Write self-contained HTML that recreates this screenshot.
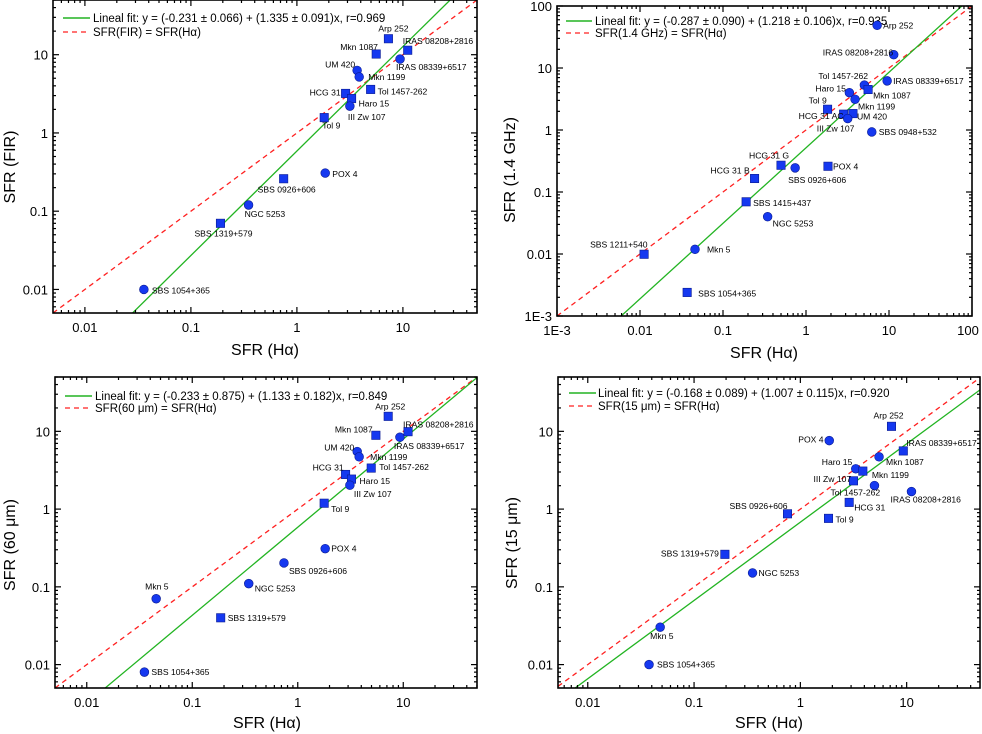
<!DOCTYPE html>
<html><head><meta charset="utf-8"><style>
html,body{margin:0;padding:0;background:#fff;}
svg{display:block;font-family:"Liberation Sans",Arial,sans-serif;}
</style></head><body>
<svg id="fig" width="982" height="734" viewBox="0 0 982 734" xmlns="http://www.w3.org/2000/svg"></svg>
<script>
// ---------- Panel 1: SFR(FIR) vs SFR(Halpha) ----------
const p1Names = ["Arp 252","IRAS 08208+2816","Mkn 1087","IRAS 08339+6517","UM 420","Mkn 1199","Tol 1457-262","HCG 31","Haro 15","III Zw 107","Tol 9","POX 4","SBS 0926+606","NGC 5253","SBS 1319+579","SBS 1054+365"];
const p1X = [7.3,11.1,5.6,9.4,3.7,3.87,4.96,2.88,3.28,3.16,1.81,1.85,0.75,0.35,0.19,0.036];
const p1Y = [16,11.4,10.2,8.8,6.3,5.2,3.6,3.2,2.75,2.2,1.57,0.307,0.26,0.12,0.07,0.01];
const p1Shape = ["s","s","s","c","c","c","s","s","s","c","s","c","s","c","s","c"];
const p1LabelDx = [-10,-5,-36,-4,-32,9,7,-36,7,-2,-2,7,-26,-4,-26,8];
const p1LabelDy = [-7,-6,-4,11,-3,3,5,2,8,14,11,4,14,12,13,4];
const p1Fit = [-0.231, 1.335];

// ---------- Panel 2: SFR(1.4 GHz) ----------
const p2Names = ["Arp 252","IRAS 08208+2816","IRAS 08339+6517","Tol 1457-262","Mkn 1087","Haro 15","Mkn 1199","Tol 9","HCG 31 AC","UM 420","III Zw 107","SBS 0948+532","HCG 31 G","SBS 0926+606","POX 4","HCG 31 B","SBS 1415+437","NGC 5253","SBS 1211+540","Mkn 5","SBS 1054+365"];
const p2X = [7.2,11.4,9.5,5.05,5.6,3.33,3.9,1.82,2.84,3.68,3.18,6.2,0.5,0.74,1.84,0.24,0.19,0.345,0.0112,0.046,0.037];
const p2Y = [48.8,16.4,6.2,5.3,4.5,4.0,3.13,2.16,1.8,1.84,1.53,0.93,0.27,0.245,0.26,0.165,0.0695,0.04,0.0099,0.0119,0.0024];
const p2Shape = ["c","c","c","c","s","c","c","s","s","s","c","c","s","c","s","s","s","c","s","c","s"];
const p2LabelDx = [6,-71,6,-46,5,-34,3,-19,-45,4,-31,7,-32,-7,5,-44,7,5,-54,12,11];
const p2LabelDy = [3,1,3,-6,9,-1,10,-6,5,6,13,3,-7,15,3,-5,4,10,-7,3,4];
const p2Fit = [-0.287, 1.218];

// ---------- Panel 3: SFR(60 um) ----------
const p3Names = ["Arp 252","IRAS 08208+2816","Mkn 1087","IRAS 08339+6517","UM 420","Mkn 1199","Tol 1457-262","HCG 31","Haro 15","III Zw 107","Tol 9","POX 4","SBS 0926+606","NGC 5253","Mkn 5","SBS 1319+579","SBS 1054+365"];
const p3X = [7.2,11.1,5.5,9.3,3.66,3.82,4.97,2.84,3.23,3.12,1.78,1.82,0.74,0.343,0.0455,0.186,0.0352];
const p3Y = [15.6,9.9,8.9,8.4,5.5,4.7,3.37,2.79,2.43,2.03,1.19,0.31,0.203,0.11,0.0703,0.04,0.008];
const p3Shape = ["s","s","s","c","c","c","s","s","s","c","s","c","c","c","c","s","c"];
const p3LabelDx = [-13,-5,-41,-6,-33,11,8,-33,8,4,7,6,5,6,-11,7,7];
const p3LabelDy = [-7,-4,-3,12,-1,3,2,-4,5,12,9,3,11,8,-9,3,3];
const p3Fit = [-0.233, 1.133];

// ---------- Panel 4: SFR(15 um) ----------
const p4Names = ["Arp 252","POX 4","IRAS 08339+6517","Mkn 1087","Haro 15","Mkn 1199","III Zw 107","Tol 1457-262","IRAS 08208+2816","HCG 31","Tol 9","SBS 0926+606","SBS 1319+579","NGC 5253","Mkn 5","SBS 1054+365"];
const p4X = [7.2,1.87,9.3,5.5,3.32,3.87,3.16,4.98,11.1,2.88,1.84,0.757,0.195,0.355,0.048,0.0377];
const p4Y = [11.6,7.6,5.6,4.7,3.3,3.08,2.31,2.01,1.68,1.22,0.76,0.87,0.262,0.151,0.0303,0.01];
const p4Shape = ["s","c","s","c","c","s","s","c","c","s","s","s","s","c","c","c"];
const p4LabelDx = [-18,-31,3,7,-34,9,-40,-44,-21,5,7,-58,-64,6,-10,8];
const p4LabelDy = [-8,2,-5,8,-4,7,1,10,11,8,4,-5,2,3,12,3];
const p4Fit = [-0.168, 1.007];

const NS = "http://www.w3.org/2000/svg";
const svg = document.getElementById("fig");
function mk(tag, attrs, parent) {
  const e = document.createElementNS(NS, tag);
  for (const k in attrs) e.setAttribute(k, attrs[k]);
  (parent || svg).appendChild(e);
  return e;
}

const panels = [
  {id:"fir", L:53, R:477, T:0, B:313, xmin:-2.301, xmax:1.699, ymin:-2.301, ymax:1.699,
   xt:[-2,-1,0,1], yt:[-2,-1,0,1], xtl:["0.01","0.1","1","10"], ytl:["0.01","0.1","1","10"],
   names:p1Names, X:p1X, Y:p1Y, shp:p1Shape, ldx:p1LabelDx, ldy:p1LabelDy, fit:p1Fit,
   ytitle:"SFR (FIR)", ytx:9, yty:167, xtx:265, xty:355, leg:[63,90,93,18,32], eq:"SFR(FIR) = SFR(Hα)",
   fitText:"Lineal fit: y = (-0.231 ± 0.066) + (1.335 ± 0.091)x, r=0.969"},
  {id:"radio", L:557, R:972, T:6, B:316, xmin:-3, xmax:2, ymin:-3, ymax:2,
   xt:[-3,-2,-1,0,1,2], yt:[-3,-2,-1,0,1,2], xtl:["1E-3","0.01","0.1","1","10","100"], ytl:["1E-3","0.01","0.1","1","10","100"],
   names:p2Names, X:p2X, Y:p2Y, shp:p2Shape, ldx:p2LabelDx, ldy:p2LabelDy, fit:p2Fit,
   ytitle:"SFR (1.4 GHz)", ytx:509, yty:170, xtx:764, xty:358, leg:[566,592,595,21,33], eq:"SFR(1.4 GHz) = SFR(Hα)",
   fitText:"Lineal fit: y = (-0.287 ± 0.090) + (1.218 ± 0.106)x, r=0.935"},
  {id:"60um", L:55, R:477, T:377, B:688, xmin:-2.301, xmax:1.699, ymin:-2.301, ymax:1.699,
   xt:[-2,-1,0,1], yt:[-2,-1,0,1], xtl:["0.01","0.1","1","10"], ytl:["0.01","0.1","1","10"],
   names:p3Names, X:p3X, Y:p3Y, shp:p3Shape, ldx:p3LabelDx, ldy:p3LabelDy, fit:p3Fit,
   ytitle:"SFR (60 μm)", ytx:9, yty:545, xtx:267, xty:728, leg:[65,92,95,396,408], eq:"SFR(60 μm) = SFR(Hα)",
   fitText:"Lineal fit: y = (-0.233 ± 0.875) + (1.133 ± 0.182)x, r=0.849"},
  {id:"15um", L:558, R:980, T:377, B:688, xmin:-2.28, xmax:1.69, ymin:-2.301, ymax:1.699,
   xt:[-2,-1,0,1], yt:[-2,-1,0,1], xtl:["0.01","0.1","1","10"], ytl:["0.01","0.1","1","10"],
   names:p4Names, X:p4X, Y:p4Y, shp:p4Shape, ldx:p4LabelDx, ldy:p4LabelDy, fit:p4Fit,
   ytitle:"SFR (15 μm)", ytx:511, yty:543, xtx:769, xty:728, leg:[569,596,598,393,406], eq:"SFR(15 μm) = SFR(Hα)",
   fitText:"Lineal fit: y = (-0.168 ± 0.089) + (1.007 ± 0.115)x, r=0.920"}
];

panels.forEach((p, pi) => {
  const g = mk("g", {});
  
  
  const sx = lv => p.L + (lv - p.xmin) / (p.xmax - p.xmin) * (p.R - p.L);
  const sy = lv => p.B - (lv - p.ymin) / (p.ymax - p.ymin) * (p.B - p.T);
  const cid = "clip" + pi;
  const cp = mk("clipPath", {id: cid}, g);
  mk("rect", {x:p.L, y:p.T, width:p.R-p.L, height:p.B-p.T}, cp);

  const lines = mk("g", {"clip-path":"url(#"+cid+")"}, g);
  const eqL = mk("line", {x1:sx(p.xmin), y1:sy(p.xmin), x2:sx(p.xmax), y2:sy(p.xmax), stroke:"#ff2020", "stroke-width":1.3, "stroke-dasharray":"5,4"}, lines);
  
  
  const fx1 = p.xmin, fx2 = p.xmax;
  const fitL = mk("line", {x1:sx(fx1), y1:sy(p.fit[0]+p.fit[1]*fx1), x2:sx(fx2), y2:sy(p.fit[0]+p.fit[1]*fx2), stroke:"#22b422", "stroke-width":1.3}, lines);
  
  

  const fr = mk("rect", {x:p.L, y:p.T, width:p.R-p.L, height:p.B-p.T, fill:"none", stroke:"#000", "stroke-width":1.6}, g);
  
  

  const tk = mk("g", {stroke:"#000", "stroke-width":1.2}, g);
  for (let d = Math.floor(p.xmin); d <= Math.ceil(p.xmax); d++) {
    for (let m = 1; m <= 9; m++) {
      const lv = d + Math.log10(m);
      if (lv < p.xmin - 1e-6 || lv > p.xmax + 1e-6) continue;
      const len = m === 1 ? 6 : 3, x = sx(lv);
      mk("line", {x1:x, y1:p.B, x2:x, y2:p.B-len}, tk);
      mk("line", {x1:x, y1:p.T, x2:x, y2:p.T+len}, tk);
    }
  }
  for (let d = Math.floor(p.ymin); d <= Math.ceil(p.ymax); d++) {
    for (let m = 1; m <= 9; m++) {
      const lv = d + Math.log10(m);
      if (lv < p.ymin - 1e-6 || lv > p.ymax + 1e-6) continue;
      const len = m === 1 ? 6 : 3, y = sy(lv);
      mk("line", {x1:p.L, y1:y, x2:p.L+len, y2:y}, tk);
      mk("line", {x1:p.R, y1:y, x2:p.R-len, y2:y}, tk);
    }
  }
  p.xt.forEach((v, i) => {
    let x = sx(v);
    if (x > 968) x = 968;
    const t = mk("text", {x:x, y:p.B+19, "text-anchor":"middle", "font-size":13}, g);
    t.textContent = p.xtl[i];
    
    
  });
  p.yt.forEach((v, i) => {
    const t = mk("text", {x:p.L-5, y:Math.max(sy(v)+5, 10), "text-anchor":"end", "font-size":13}, g);
    t.textContent = p.ytl[i];
    
    
  });

  const xt = mk("text", {x:p.xtx, y:p.xty, "text-anchor":"middle", "font-size":16}, g);
  xt.textContent = "SFR (Hα)";
  
  
  const yt = mk("text", {x:0, y:0, "text-anchor":"middle", "font-size":16, transform:"translate("+(p.ytx+6)+","+p.yty+") rotate(-90)"}, g);
  yt.textContent = p.ytitle;
  
  

  const lg = mk("g", {}, g);
  
  
  mk("line", {x1:p.leg[0], y1:p.leg[3], x2:p.leg[1], y2:p.leg[3], stroke:"#22b422", "stroke-width":1.5}, lg);
  const l1 = mk("text", {x:p.leg[2], y:p.leg[3]+4, "font-size":11.5}, lg);
  l1.textContent = p.fitText;
  
  
  mk("line", {x1:p.leg[0], y1:p.leg[4], x2:p.leg[1], y2:p.leg[4], stroke:"#ff2020", "stroke-width":1.3, "stroke-dasharray":"5,4"}, lg);
  const l2 = mk("text", {x:p.leg[2], y:p.leg[4]+4, "font-size":11.5}, lg);
  l2.textContent = p.eq;
  
  

  p.X.forEach((xv, i) => {
    const cx = sx(Math.log10(xv)), cy = sy(Math.log10(p.Y[i]));
    let m;
    if (p.shp[i] === "s") {
      m = mk("rect", {x:cx-4.2, y:cy-4.2, width:8.4, height:8.4, fill:"#1538f0", stroke:"#0a1a90", "stroke-width":0.6}, g);
    } else {
      m = mk("circle", {cx:cx, cy:cy, r:4.4, fill:"#1538f0", stroke:"#0a1a90", "stroke-width":0.6}, g);
    }
    
    
    const t = mk("text", {x:cx+p.ldx[i], y:cy+p.ldy[i], "font-size":8.6}, g);
    t.textContent = p.names[i];
    
    
  });
});
</script>
</body></html>
